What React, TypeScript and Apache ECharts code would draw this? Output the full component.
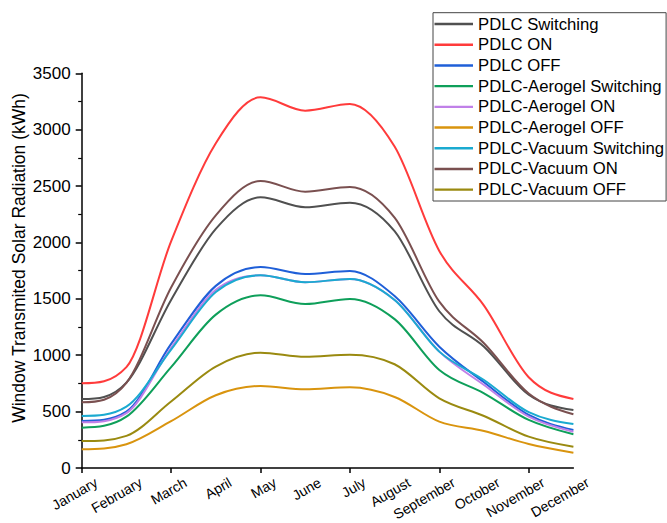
import { useEffect, useRef } from "react";
import * as echarts from "echarts";

// Monthly transmitted solar radiation through the window (kWh)
const months = [
  "January", "February", "March", "April", "May", "June",
  "July", "August", "September", "October", "November", "December",
];

const pdlcSwitching = [612, 757, 1490, 2120, 2400, 2312, 2353, 2100, 1390, 1075, 650, 514];
const pdlcOn = [751, 895, 2010, 2880, 3287, 3169, 3228, 2850, 1925, 1440, 805, 612];
const pdlcOff = [417, 500, 1100, 1615, 1782, 1720, 1747, 1525, 1076, 760, 470, 337];
const aerogelSwitching = [358, 455, 895, 1360, 1531, 1454, 1499, 1320, 869, 662, 426, 299];
const aerogelOn = [405, 487, 1065, 1580, 1709, 1647, 1676, 1490, 1032, 736, 455, 322];
const aerogelOff = [166, 210, 415, 645, 727, 698, 715, 630, 411, 328, 213, 136];
const vacuumSwitching = [461, 544, 1050, 1560, 1709, 1647, 1676, 1490, 1032, 780, 495, 390];
const vacuumOn = [582, 755, 1600, 2240, 2545, 2450, 2492, 2220, 1475, 1106, 660, 476];
const vacuumOff = [239, 285, 590, 900, 1023, 987, 1005, 920, 618, 461, 278, 189];

const seriesDefs = [
  { name: "PDLC Switching", data: pdlcSwitching, color: "#505050" },
  { name: "PDLC ON", data: pdlcOn, color: "#ff3b3b" },
  { name: "PDLC OFF", data: pdlcOff, color: "#1f5fd8" },
  { name: "PDLC-Aerogel Switching", data: aerogelSwitching, color: "#0e9f5a" },
  { name: "PDLC-Aerogel ON", data: aerogelOn, color: "#c080e8" },
  { name: "PDLC-Aerogel OFF", data: aerogelOff, color: "#d9940e" },
  { name: "PDLC-Vacuum Switching", data: vacuumSwitching, color: "#1aaad0" },
  { name: "PDLC-Vacuum ON", data: vacuumOn, color: "#7a5050" },
  { name: "PDLC-Vacuum OFF", data: vacuumOff, color: "#9a8a10" },
];

const FONT = "'Liberation Sans', Arial, sans-serif";

// Smooth cubic curve through screen points: Catmull-Rom tangents, clipped so no segment overshoots
function smoothPath(pts: number[][]): string {
  const n = pts.length;
  if (n < 2) return "";
  const sign = (v: number) => (v < 0 ? -1 : v > 0 ? 1 : 0);
  const secant: number[] = [];
  for (let i = 0; i < n - 1; i++) {
    secant.push((pts[i + 1][1] - pts[i][1]) / (pts[i + 1][0] - pts[i][0]));
  }
  const t: number[] = new Array(n).fill(0);
  for (let i = 1; i < n - 1; i++) {
    const s0 = secant[i - 1];
    const s1 = secant[i];
    if (sign(s0) !== sign(s1) || s0 === 0 || s1 === 0) {
      t[i] = 0;
    } else {
      const avg = (s0 + s1) / 2;
      const lim = 3 * Math.min(Math.abs(s0), Math.abs(s1));
      t[i] = sign(avg) * Math.min(Math.abs(avg), lim);
    }
  }
  t[0] = n > 2 ? (3 * secant[0] - t[1]) / 2 : secant[0];
  if (sign(t[0]) !== sign(secant[0])) t[0] = 0;
  t[n - 1] = n > 2 ? (3 * secant[n - 2] - t[n - 2]) / 2 : secant[n - 2];
  if (sign(t[n - 1]) !== sign(secant[n - 2])) t[n - 1] = 0;
  let path = `M${pts[0][0]},${pts[0][1]}`;
  for (let i = 0; i < n - 1; i++) {
    const [x0, y0] = pts[i];
    const [x1, y1] = pts[i + 1];
    const dx = (x1 - x0) / 3;
    path += ` C${x0 + dx},${y0 + dx * t[i]} ${x1 - dx},${y1 - dx * t[i + 1]} ${x1},${y1}`;
  }
  return path;
}

export default function App() {
  const ref = useRef<HTMLDivElement>(null);

  useEffect(() => {
    if (!ref.current) return;
    const chart = echarts.init(ref.current, undefined, { renderer: "svg" });

    const plotLeft = 81.7;
    const plotTop = 73.3;
    const plotWidth = 491.7;
    const plotHeight = 394.7;

    chart.setOption({
      animation: false,
      backgroundColor: "#ffffff",
      textStyle: { fontFamily: FONT },
      grid: [
        { left: plotLeft, top: plotTop, width: plotWidth, height: plotHeight, containLabel: false },
        // label-only grid, nudged right so the slanted month names end past their ticks
        { left: plotLeft + 14.5, top: plotTop, width: plotWidth, height: plotHeight, containLabel: false },
      ],
      legend: {
        orient: "vertical",
        left: 433,
        top: 12.7,
        padding: [1, 2, 1, 1.5],
        borderColor: "#444444",
        borderWidth: 1,
        itemGap: 0,
        itemWidth: 38.5,
        itemHeight: 2.4,
        icon: "rect",
        selectedMode: false,
        textStyle: { fontFamily: FONT, fontSize: 16.7, color: "#000000", lineHeight: 20.7 },
        data: seriesDefs.map((s) => s.name),
      },
      xAxis: [
        {
          type: "category",
          gridIndex: 0,
          data: months,
          boundaryGap: false,
          axisLine: { show: true, lineStyle: { color: "#000000", width: 1.5 } },
          axisTick: { show: true, inside: false, length: 5, lineStyle: { color: "#000000", width: 1.5 } },
          axisLabel: { show: false },
          splitLine: { show: false },
        },
        {
          type: "category",
          gridIndex: 1,
          data: months,
          boundaryGap: false,
          axisLine: { show: false },
          axisTick: { show: false },
          axisLabel: {
            show: true,
            interval: 0,
            rotate: 30,
            margin: 15,
            fontFamily: FONT,
            fontSize: 14,
            color: "#000000",
          },
          splitLine: { show: false },
        },
      ],
      yAxis: [
        {
          type: "value",
          gridIndex: 0,
          min: 0,
          max: 3500,
          interval: 500,
          axisLine: { show: true, lineStyle: { color: "#000000", width: 1.5 } },
          axisTick: { show: true, inside: false, length: 6, lineStyle: { color: "#000000", width: 1.5 } },
          minorTick: { show: true, splitNumber: 2, length: 3.5, lineStyle: { color: "#000000", width: 1.2 } },
          axisLabel: {
            fontFamily: FONT,
            fontSize: 17,
            color: "#000000",
            margin: 11,
            formatter: (v: number) => String(v),
          },
          splitLine: { show: false },
        },
        { type: "value", gridIndex: 1, min: 0, max: 3500, show: false },
      ],
      graphic: [
        {
          type: "text",
          x: 18.5,
          y: 258,
          rotation: Math.PI / 2,
          style: {
            text: "Window Transmited Solar Radiation (kWh)",
            fontFamily: FONT,
            fontSize: 17.5,
            fill: "#000000",
            align: "center",
            verticalAlign: "middle",
          },
        },
      ],
      series: seriesDefs.map((s) => ({
        name: s.name,
        type: "custom",
        xAxisIndex: 0,
        yAxisIndex: 0,
        data: s.data.map((v, i) => [i, v]),
        encode: { x: 0, y: 1 },
        itemStyle: { color: s.color },
        silent: true,
        renderItem: (params: any, api: any) => {
          if (params.dataIndex !== 0) return null;
          const pts = s.data.map((v, i) => api.coord([i, v]));
          return {
            type: "path",
            shape: { pathData: smoothPath(pts) },
            style: { stroke: s.color, lineWidth: 2, fill: "none" },
          };
        },
      })),
    });

    return () => chart.dispose();
  }, []);

  return (
    <div
      ref={ref}
      style={{ position: "fixed", left: 0, top: 0, width: 667, height: 523, background: "#fff" }}
    />
  );
}
